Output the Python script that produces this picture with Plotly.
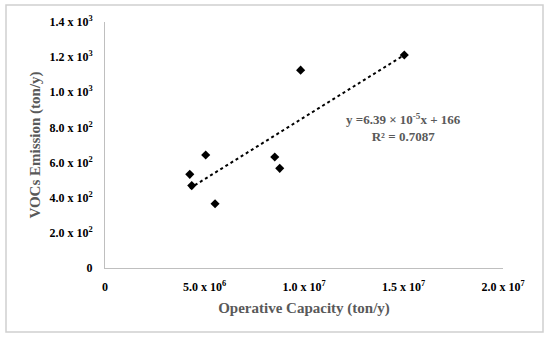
import numpy as np
import plotly.graph_objects as go

# Data
operative_capacity = [4.26e6, 4.36e6, 5.06e6, 5.53e6, 8.53e6, 8.78e6, 9.83e6, 1.504e7]
voc_emission = [533, 469, 643, 366, 632, 567, 1126, 1212]

x_tickvals = [0, 5e6, 1e7, 1.5e7, 2e7]
x_ticktext = ["0", "5.0 x 10<sup>6</sup>", "1.0 x 10<sup>7</sup>", "1.5 x 10<sup>7</sup>", "2.0 x 10<sup>7</sup>"]
y_tickvals = [0, 200, 400, 600, 800, 1000, 1200, 1400]
y_ticktext = ["0", "2.0 x 10<sup>2</sup>", "4.0 x 10<sup>2</sup>", "6.0 x 10<sup>2</sup>",
              "8.0 x 10<sup>2</sup>", "1.0 x 10<sup>3</sup>", "1.2 x 10<sup>3</sup>", "1.4 x 10<sup>3</sup>"]

equation_text = "y =6.39 × 10<sup>-5</sup>x + 166<br>R² = 0.7087"

# Linear trendline computed from the data
slope, intercept = np.polyfit(operative_capacity, voc_emission, 1)
trend_x = [min(operative_capacity), max(operative_capacity)]
trend_y = [slope * v + intercept for v in trend_x]

serif = "Liberation Serif"
fig = go.Figure()
fig.add_trace(go.Scatter(x=trend_x, y=trend_y, mode="lines",
                         line=dict(color="black", width=2, dash="dot"),
                         showlegend=False, hoverinfo="skip"))
fig.add_trace(go.Scatter(x=operative_capacity, y=voc_emission, mode="markers",
                         marker=dict(symbol="diamond", size=7, color="black"),
                         showlegend=False))

fig.update_layout(
    width=550, height=338,
    margin=dict(l=105, r=47, t=22, b=70, autoexpand=False),
    paper_bgcolor="white", plot_bgcolor="white",
    font=dict(family=serif, color="black"),
    shapes=[dict(type="rect", xref="paper", yref="paper",
                 x0=-99/398, x1=438/398, y0=-64/246, y1=1 + 17/246,
                 line=dict(color="#d0d0d0", width=1.5), fillcolor="rgba(0,0,0,0)", layer="above")],
    annotations=[dict(x=1.5e7, y=800, xref="x", yref="y", text=equation_text,
                      showarrow=False, align="center",
                      font=dict(family=serif, size=13, color="#595959", weight="bold"))],
)
fig.update_xaxes(range=[0, 2e7], tickvals=x_tickvals, ticktext=x_ticktext, automargin=False,
                 showgrid=False, zeroline=False, showline=True, linecolor="#bfbfbf", linewidth=1,
                 ticks="", ticklabelstandoff=8,
                 tickfont=dict(family=serif, size=12, color="black", weight="bold"),
                 title=dict(text="Operative Capacity (ton/y)", standoff=9,
                            font=dict(family=serif, size=15, color="#595959", weight="bold")))
fig.update_yaxes(range=[0, 1400], tickvals=y_tickvals, ticktext=y_ticktext, automargin=False,
                 showgrid=False, zeroline=False, showline=True, linecolor="#bfbfbf", linewidth=1,
                 ticks="", ticklabelstandoff=9,
                 tickfont=dict(family=serif, size=12, color="black", weight="bold"),
                 title=dict(text="VOCs Emission (ton/y)", standoff=5,
                            font=dict(family=serif, size=15, color="#595959", weight="bold")))

fig.write_html("out.html", config={"displayModeBar": False},
               post_script="document.body.style.margin='0';")
